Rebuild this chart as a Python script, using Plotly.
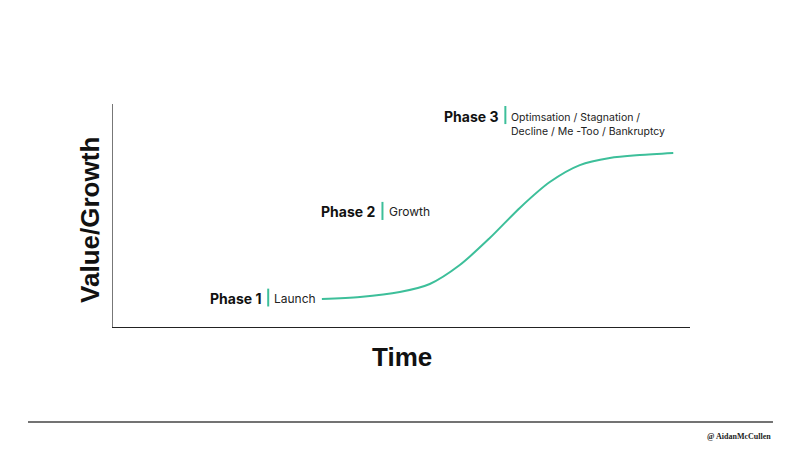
import plotly.graph_objects as go

# S-curve (time vs value, both 0-100)
time = [36.2, 42.8, 49.7, 54.9, 60.1, 65.3, 70.5, 75.7, 80.9, 86.1, 91.3, 97.1]
value = [12.6, 13.5, 15.7, 19.3, 27.8, 39.9, 53.4, 65.0, 72.6, 75.8, 77.1, 78.0]

phase_names = ["Phase 1", "Phase 2", "Phase 3"]
phase_notes = ["Launch", "Growth", "Optimsation / Stagnation /<br>Decline / Me -Too / Bankruptcy"]

TEAL = "#3dbf9a"

fig = go.Figure()
fig.add_trace(go.Scatter(
    x=time, y=value, mode="lines",
    line=dict(color=TEAL, width=2, shape="spline", smoothing=0.8),
    hoverinfo="skip", showlegend=False,
))

# label anchor points: (x of label end, y centre, bar top, bar bottom, note centre, note size)
spots = [(26.0, 13.0, 17.2, 9.2, 12.6, 12), (45.8, 51.6, 56.1, 48.0, 51.6, 12),
         (67.1, 94.6, 99.1, 91.0, 91.0, 10.5)]
for name, note, (xe, yc, bt, bb, yn, fs) in zip(phase_names, phase_notes, spots):
    fig.add_annotation(x=xe, y=yc, text=f"<b>{name}</b>", showarrow=False,
                       xanchor="right", yanchor="middle",
                       font=dict(family="Inter", size=14, color="#111"))
    fig.add_shape(type="line", x0=xe + 0.9, x1=xe + 0.9, y0=bb, y1=bt,
                  line=dict(color=TEAL, width=2))
    fig.add_annotation(x=xe + 1.6, y=yn, text=note,
                       showarrow=False, xanchor="left", yanchor="middle", align="left",
                       font=dict(family="Inter", size=fs, color="#222"))

# axis titles
fig.add_annotation(x=-0.04, y=0.48, xref="paper", yref="paper", text="<b>Value/Growth</b>",
                   textangle=-90, showarrow=False, xanchor="center", yanchor="middle",
                   font=dict(family="Liberation Sans", size=26, color="#111"))
fig.add_annotation(x=0.5, y=-0.06, xref="paper", yref="paper", text="<b>Time</b>",
                   showarrow=False, xanchor="center", yanchor="top",
                   font=dict(family="Liberation Sans", size=26, color="#111"))

# footer rule and handle
fig.add_shape(type="line", xref="paper", yref="paper", x0=-0.1473, x1=1.1438,
              y0=-0.426, y1=-0.426, line=dict(color="#444", width=1.5))
fig.add_annotation(x=1.1438, y=-0.49, xref="paper", yref="paper", text="<b>@ AidanMcCullen</b>",
                   showarrow=False, xanchor="right", yanchor="middle",
                   font=dict(family="Liberation Serif", size=8, color="#222"))

fig.update_layout(
    width=800, height=450,
    margin=dict(l=105, r=118, t=96, b=131),
    plot_bgcolor="white", paper_bgcolor="white",
)
fig.update_xaxes(range=[0, 100], showline=True, linecolor="#222", linewidth=1.2,
                 showgrid=False, zeroline=False, showticklabels=False, ticks="")
fig.update_yaxes(range=[0, 100], showline=True, linecolor="#777", linewidth=1.2,
                 showgrid=False, zeroline=False, showticklabels=False, ticks="")

fig.write_html("out.html")
